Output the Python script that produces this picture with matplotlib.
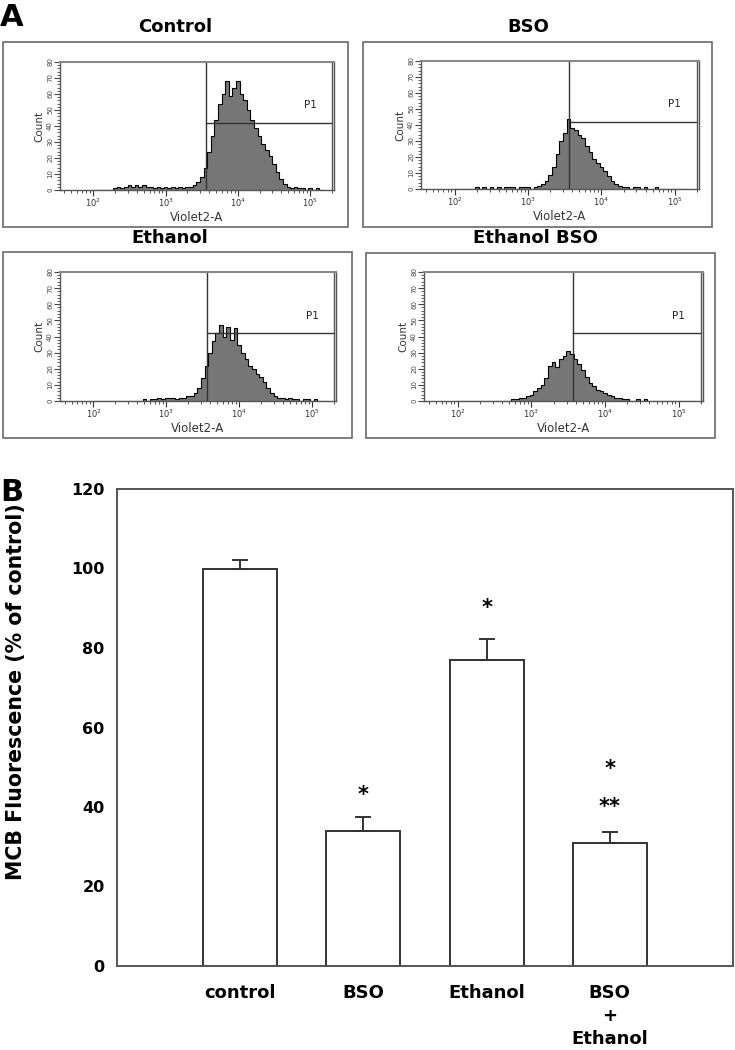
import numpy as np
import matplotlib
matplotlib.use('Agg')
import matplotlib.pyplot as plt
from matplotlib.patches import Rectangle
from matplotlib.ticker import MultipleLocator, LogLocator, NullFormatter

# --- Panel A: flow histograms (counts per log10 bin of Violet2-A) ---
hist_start = 2.0   # log10 of first bin centre
hist_step = 0.05   # bin width in log10 units

control_counts = [0, 0, 0, 0, 0, 0, 1, 2, 1, 2, 3, 2, 3, 2, 3, 2, 2, 1, 2, 1,
                  2, 1, 2, 1, 2, 1, 2, 2, 3, 5, 8, 14, 24, 34, 44, 54, 60, 68, 59, 64,
                  68, 60, 56, 50, 44, 39, 34, 29, 25, 21, 16, 11, 7, 4, 2, 1, 2, 1, 1, 0,
                  1, 0, 1, 0, 0]
bso_counts = [0, 0, 0, 0, 0, 0, 1, 0, 1, 0, 1, 0, 1, 0, 1, 1, 1, 0, 1, 1,
              1, 0, 1, 2, 3, 5, 9, 14, 22, 30, 35, 44, 38, 37, 34, 32, 27, 23, 19, 16,
              14, 11, 8, 5, 3, 2, 1, 1, 0, 1, 1, 0, 1, 0, 0, 1, 0, 0, 0, 0,
              0, 0, 0, 0, 0]
ethanol_counts = [0, 0, 0, 0, 0, 0, 0, 0, 0, 0, 0, 0, 0, 0, 1, 0, 1, 1, 2, 1,
                  2, 2, 2, 1, 2, 2, 3, 3, 5, 8, 14, 22, 30, 37, 42, 47, 40, 46, 38, 45,
                  35, 30, 26, 22, 20, 17, 15, 12, 8, 5, 3, 2, 2, 1, 2, 1, 1, 0, 1, 1,
                  0, 1, 0, 0, 0]
eth_bso_counts = [0, 0, 0, 0, 0, 0, 0, 0, 0, 0, 0, 0, 0, 0, 0, 1, 1, 2, 2, 3,
                  4, 6, 8, 10, 14, 22, 24, 21, 26, 28, 31, 29, 26, 23, 19, 15, 11, 9, 7, 6,
                  5, 4, 3, 2, 2, 1, 1, 0, 0, 1, 0, 1, 0, 0, 0, 0, 0, 0, 0, 0,
                  0, 0, 0, 0, 0]

hist_titles = ['Control', 'BSO', 'Ethanol', 'Ethanol BSO']
hist_data = [control_counts, bso_counts, ethanol_counts, eth_bso_counts]
gate_log = 3.56   # P1 gate start (log10)
gate_level = 42   # P1 gate marker height

# --- Panel B: MCB fluorescence ---
groups = ['control', 'BSO', 'Ethanol', 'BSO\n+\nEthanol']
mcb_mean = [100, 34, 77, 31]
mcb_err = [2.2, 3.4, 5.2, 2.8]
mcb_marks = [[], ['*'], ['*'], ['**', '*']]
mark_height = [[], [43.5], [90.5], [40.5, 50]]  # centre of each significance mark

W, H = 735, 1050
fig = plt.figure(figsize=(W / 100, H / 100), dpi=100)


def px_rect(x0, y0, x1, y1):
    # pixel box (top-left origin) -> figure fraction [l, b, w, h]
    return [x0 / W, 1 - y1 / H, (x1 - x0) / W, (y1 - y0) / H]


# box, inner axes, title position for each histogram (pixels)
boxes = [(3, 42, 348, 227), (363, 42, 712, 227), (3, 252, 352, 438), (366, 253, 715, 438)]
inner = [(60, 62, 334, 190), (421, 61, 699, 189), (60, 272, 336, 401), (424, 272, 703, 401)]
title_xy = [(175, 27), (528, 27), (170, 238), (535, 238)]

grey_fill = '#767676'
frame_col = '#6a6a6a'

for i in range(4):
    bx = boxes[i]
    fig.patches.append(Rectangle((bx[0] / W, 1 - bx[3] / H), (bx[2] - bx[0]) / W, (bx[3] - bx[1]) / H,
                                 transform=fig.transFigure, fill=False, edgecolor=frame_col, lw=1.2))
    fig.text(title_xy[i][0] / W, 1 - title_xy[i][1] / H, hist_titles[i], ha='center', va='center',
             fontsize=13, fontweight='bold')

    ax = fig.add_axes(px_rect(*inner[i]))
    counts = np.array(hist_data[i], dtype=float)
    edges = 10 ** (hist_start + hist_step * (np.arange(len(counts) + 1) - 0.5))
    ax.stairs(counts, edges, fill=True, color=grey_fill, lw=0)
    ax.stairs(counts, edges, color='black', lw=0.8)

    ax.set_xscale('log')
    ax.set_xlim(10 ** 1.54, 10 ** 5.33)
    ax.set_ylim(0, 80)

    # P1 gate
    ax.axvline(10 ** gate_log, color='#333333', lw=1.0)
    ax.plot([10 ** gate_log, 10 ** 5.3], [gate_level, gate_level], color='#333333', lw=1.0)
    ax.axvline(10 ** 5.3, color='#555555', lw=1.0)
    ax.text(10 ** 5.0, 53, 'P1', fontsize=7.5, ha='center', va='center', color='#222222')

    ax.set_xticks([1e2, 1e3, 1e4, 1e5])
    ax.xaxis.set_minor_locator(LogLocator(base=10, subs=np.arange(2, 10)))
    ax.xaxis.set_minor_formatter(NullFormatter())
    ax.yaxis.set_major_locator(MultipleLocator(10))
    ax.yaxis.set_minor_locator(MultipleLocator(2))
    ax.tick_params(axis='x', which='major', labelsize=6, length=4, width=0.8, pad=1, colors='#333333')
    ax.tick_params(axis='x', which='minor', length=2.5, width=0.6, colors='#333333')
    ax.tick_params(axis='y', which='major', labelsize=5, length=4, width=0.8, pad=1,
                   labelrotation=90, colors='#444444')
    ax.tick_params(axis='y', which='minor', length=2.5, width=0.6, colors='#444444')
    for lab in ax.get_yticklabels():
        lab.set_va('center')
    ax.set_xlabel('Violet2-A', fontsize=8.5, labelpad=1, color='#333333')
    ax.set_ylabel('Count', fontsize=7.5, labelpad=2, color='#333333')
    for sp in ax.spines.values():
        sp.set_color('#555555')
        sp.set_linewidth(1.0)
    ax.spines['top'].set_linewidth(1.5)
    ax.spines['top'].set_color('#888888')

fig.text(0 / W, 1 - 17 / H, 'A', fontsize=22, fontweight='bold', ha='left', va='center')
fig.text(0 / W, 1 - 492 / H, 'B', fontsize=22, fontweight='bold', ha='left', va='center')

# --- Panel B bar chart ---
axb = fig.add_axes(px_rect(117, 489, 733, 966))
x = np.arange(len(groups))
axb.bar(x, mcb_mean, width=0.6, color='white', edgecolor='#333333', lw=1.4, zorder=2)
axb.errorbar(x, mcb_mean, yerr=[np.zeros(len(x)), mcb_err], fmt='none', ecolor='#333333',
             elinewidth=1.4, capsize=6, capthick=1.4, zorder=3)
for xi, marks, hts in zip(x, mcb_marks, mark_height):
    for s, h in zip(marks, hts):
        # asterisk glyph sits ~2 units above the baseline
        axb.text(xi, h - 2, s, ha='center', va='baseline', fontsize=15, fontweight='bold')

axb.set_xlim(-1, 4)
axb.set_ylim(0, 120)
axb.set_yticks(np.arange(0, 121, 20))
axb.set_xticks(x)
axb.set_xticklabels(groups, fontsize=13, fontweight='bold', linespacing=1.35)
axb.tick_params(axis='both', length=0)
axb.tick_params(axis='y', labelsize=11.5, pad=9)
axb.tick_params(axis='x', pad=13)
for lab in axb.get_yticklabels():
    lab.set_fontweight('bold')
for sp in axb.spines.values():
    sp.set_color('#555555')
    sp.set_linewidth(1.4)
fig.text(16 / W, 1 - 692 / H, 'MCB Fluorescence (% of control)', rotation=90, ha='center', va='center',
         fontsize=14.8, fontweight='bold')

fig.savefig('out.png', dpi=100)
